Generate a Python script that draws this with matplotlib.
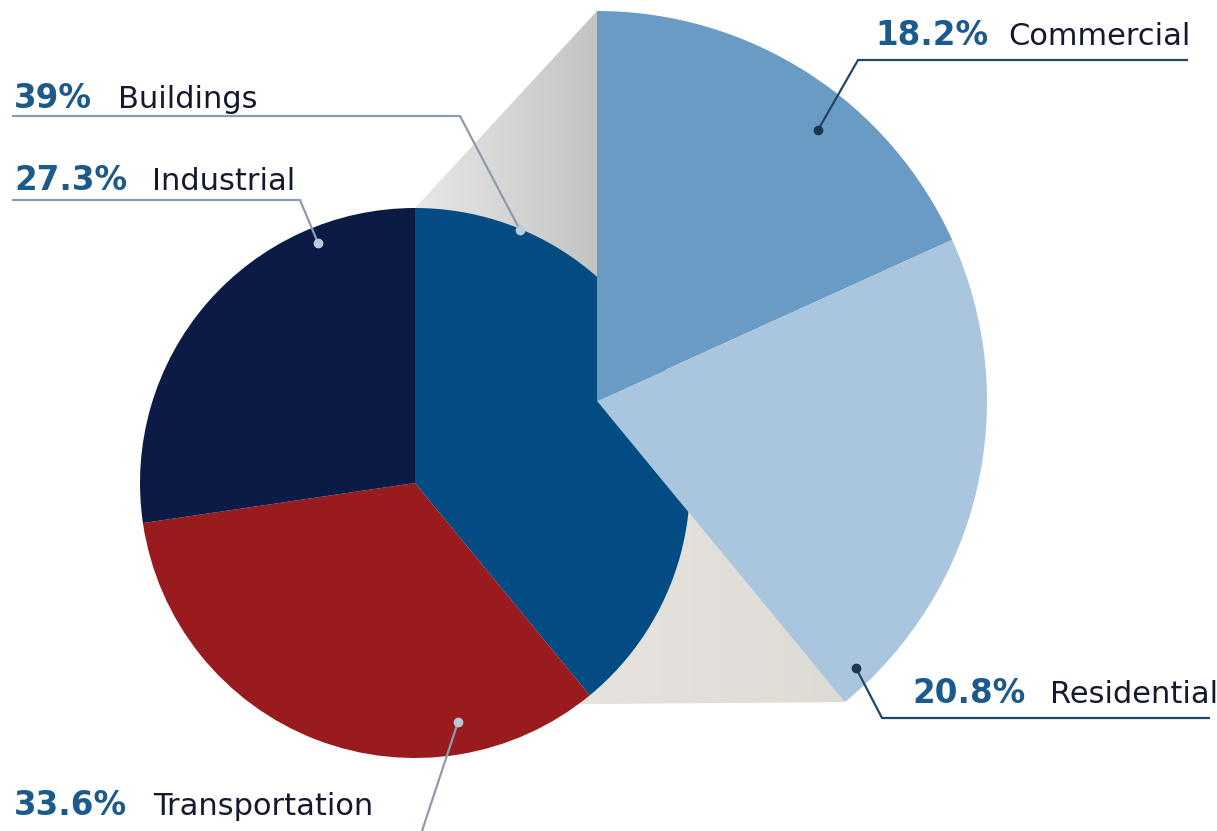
import numpy as np
import matplotlib
matplotlib.use("Agg")
import matplotlib.pyplot as plt
from matplotlib.patches import Polygon

# data
main_labels = ["Buildings", "Transportation", "Industrial"]
main_values = [39.0, 33.6, 27.3]
main_colors = ["#034c83", "#9a1b1e", "#0b1b45"]

sub_labels = ["Commercial", "Residential"]
sub_values = [18.2, 20.8]
sub_colors = ["#6a9bc4", "#a9c6de"]

W, H = 1217, 831
fig = plt.figure(figsize=(W / 100, H / 100), dpi=100)
ax = fig.add_axes([0, 0, 1, 1])

def py(y):
    # image row -> data y
    return H - y

c1, r1 = (415, py(483)), 275
c2, r2 = (597, py(401)), 390

share = main_values[0] / sum(main_values)
a0 = 90.0
a1 = 90.0 - 360.0 * share

def pt(c, r, ang):
    return (c[0] + r * np.cos(np.radians(ang)), c[1] + r * np.sin(np.radians(ang)))

# grey connectors behind the pies
top = [pt(c1, r1, a0), pt(c2, r2, a0), c2, c1]
bot = [pt(c1, r1, a1 - 3), pt(c2, r2, a1), c2, c1]
grad = np.linspace(0, 1, 256).reshape(1, -1)
for poly, cm in [(top, ["#e9e8e6", "#c3c3c3"]), (bot, ["#ece9e4", "#dedad4"])]:
    p = Polygon(poly, closed=True, fc="none", ec="none")
    ax.add_patch(p)
    xs = [q[0] for q in poly]
    ys = [q[1] for q in poly]
    cmap = matplotlib.colors.LinearSegmentedColormap.from_list("g", cm)
    im = ax.imshow(grad, cmap=cmap, extent=[min(xs), max(xs), min(ys), max(ys)],
                   aspect="auto", zorder=0.5)
    im.set_clip_path(p)

# main pie
wedges, _ = ax.pie(main_values, colors=main_colors, startangle=90, counterclock=False,
                   center=c1, radius=r1, frame=True, wedgeprops=dict(linewidth=0))
for w in wedges:
    w.set_zorder(1)

# breakdown pie (only the Buildings share is filled), drawn over the main pie
rest = sum(main_values) - sum(sub_values)
wedges, _ = ax.pie(sub_values + [rest], colors=sub_colors + ["none"], startangle=90,
                   counterclock=False, center=c2, radius=r2, frame=True,
                   wedgeprops=dict(linewidth=0))
for w in wedges:
    w.set_zorder(2)

ax.set_xlim(0, W)
ax.set_ylim(0, H)
ax.set_aspect("equal")
ax.axis("off")

fam = ["DejaVu Sans"]
blue = "#1d5a8c"
dark = "#14192e"

def label(x_pct, x_lab, y, pct, name):
    ax.text(x_pct, py(y), pct, fontsize=23.5, fontweight="bold", color=blue,
            family=fam, va="baseline", zorder=5)
    ax.text(x_lab, py(y), name, fontsize=22, color=dark, family=fam,
            va="baseline", zorder=5)

def leader(pts, dot, lc, dc):
    xs = [p[0] for p in pts]
    ys = [py(p[1]) for p in pts]
    ax.plot(xs, ys, color=lc, lw=1.6, zorder=4, solid_capstyle="butt")
    ax.plot(dot[0], py(dot[1]), "o", ms=6, color=dc, zorder=4)

fmt = lambda v: f"{v:g}%"

label(14, 118, 108, fmt(main_values[0]), main_labels[0])
leader([(12, 116), (460, 116), (520, 230)], (520, 230), "#8d9cad", "#b8cde0")

label(14, 152, 190, fmt(main_values[2]), main_labels[2])
leader([(12, 200), (300, 200), (318, 243)], (318, 243), "#8d9cad", "#b8cde0")

label(14, 153, 815, fmt(main_values[1]), main_labels[1])
leader([(458, 722), (422, 831)], (458, 722), "#8d9cad", "#b8c8d4")

label(875, 1008, 45, fmt(sub_values[0]), sub_labels[0])
leader([(1188, 60), (858, 60), (818, 130)], (818, 130), "#1f4868", "#1f3550")

label(912, 1050, 703, fmt(sub_values[1]), sub_labels[1])
leader([(1210, 718), (882, 718), (856, 668)], (856, 668), "#1f4868", "#1f3550")

fig.savefig("out.png", dpi=100, facecolor="white")
